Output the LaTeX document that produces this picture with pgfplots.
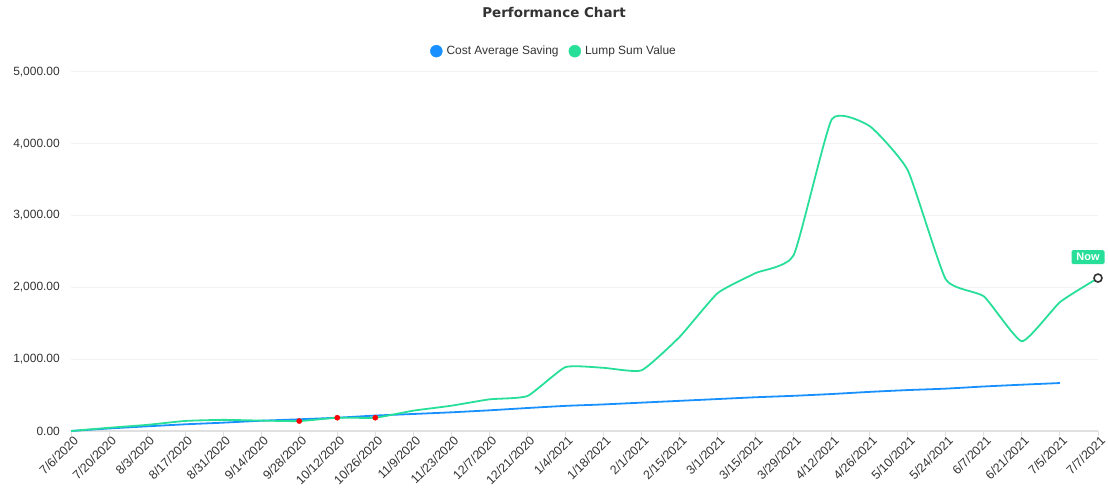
\documentclass[border=0pt]{standalone}
\usepackage{fontspec}
\setmainfont{Liberation Sans}
\newfontfamily\titlefont{DejaVu Sans}
\usepackage{pgfplots}
\pgfplotsset{compat=1.18}
\definecolor{cblue}{HTML}{1890FF}
\definecolor{cgreen}{HTML}{28DF99}
\definecolor{txt}{HTML}{333333}
\definecolor{gridc}{HTML}{F2F2F2}
\definecolor{axc}{HTML}{E0E0E0}
\begin{document}
\begin{tikzpicture}[x=1bp,y=1bp]
\useasboundingbox (0,0) rectangle (1108,500);
\node[font=\titlefont\fontsize{13.5}{16}\selectfont\bfseries, text=txt] at (554,488) {Performance Chart};
\begin{axis}[
  at={(71bp,69bp)}, anchor=south west,
  scale only axis, width=1027bp, height=359bp,
  xmin=0, xmax=27, ymin=0, ymax=5000,
  clip=false,
  xtick={0,...,27},
  xticklabels={7/6/2020,7/20/2020,8/3/2020,8/17/2020,8/31/2020,9/14/2020,9/28/2020,10/12/2020,10/26/2020,11/9/2020,11/23/2020,12/7/2020,12/21/2020,1/4/2021,1/18/2021,2/1/2021,2/15/2021,3/1/2021,3/15/2021,3/29/2021,4/12/2021,4/26/2021,5/10/2021,5/24/2021,6/7/2021,6/21/2021,7/5/2021,7/7/2021},
  ytick={0,1000,...,5000},
  ymajorgrids, major grid style={gridc, line width=1bp},
  axis x line*=bottom, axis y line*=left,
  x axis line style={axc, line width=1.2bp, -},
  y axis line style={draw=none},
  tick align=outside,
  major tick length=5bp,
  xtick style={axc, line width=1bp},
  ytick style={draw=none},
  /pgf/number format/assume math mode=true,
  yticklabel style={font=\fontsize{12}{14}\selectfont, text=txt, inner sep=0pt, xshift=-6bp,
    /pgf/number format/.cd, fixed, fixed zerofill, precision=2, 1000 sep={,}},
  xticklabel style={font=\fontsize{12.5}{14}\selectfont, text=txt, rotate=45, anchor=east, inner sep=1bp, yshift=-5bp, xshift=3bp},
  legend style={at={(0.4703,1.058)}, anchor=center, draw=none, fill=none,
    font=\fontsize{12}{14}\selectfont, text=txt,
    /tikz/every even column/.append style={column sep=8bp},
    /tikz/every odd column/.append style={column sep=2bp}},
  legend columns=2,
  legend cell align=left,
  legend image code/.code={\fill[#1] (4bp,0) circle (6bp);},
]
\addlegendimage{cblue}
\addlegendentry{Cost Average Saving}
\addlegendimage{cgreen}
\addlegendentry{Lump Sum Value}

\addplot[cblue, line width=1.8bp, smooth, tension=0.3, forget plot] coordinates {
(0,0)(1,35)(2,65)(3,93)(4,116)(5,143)(6,163)(7,185)(8,215)(9,237)(10,260)(11,288)(12,320)(13,350)(14,370)(15,395)(16,420)(17,445)(18,470)(19,490)(20,515)(21,545)(22,570)(23,590)(24,620)(25,645)(26,668)};

\addplot[cgreen, line width=1.8bp, smooth, tension=0.28, forget plot] coordinates {
(0,0)(1,45)(2,85)(3,140)(4,155)(5,145)(6,138)(7,185)(8,185)(9,283)(10,352)(11,441)(12,487)(13,890)(14,880)(15,845)(16,1310)(17,1920)(18,2200)(19,2450)(20,4340)(21,4245)(22,3630)(23,2110)(24,1875)(25,1250)(26,1795)(27,2130)};

\addplot[only marks, mark=*, mark size=2.6bp, mark options={draw=red, fill=red}, forget plot] coordinates {(6,138)(7,185)(8,185)};

\addplot[only marks, mark=*, mark size=4bp, mark options={draw=txt, fill=white, line width=1.6bp}, forget plot] coordinates {(27,2130)};

\node[fill=cgreen, text=white, font=\fontsize{11}{13}\selectfont\bfseries, rounded corners=1.5bp, inner sep=0pt, minimum width=33bp, minimum height=14bp] at ([xshift=-10bp, yshift=21bp] axis cs:27,2130) {Now};
\end{axis}
\end{tikzpicture}
\end{document}
